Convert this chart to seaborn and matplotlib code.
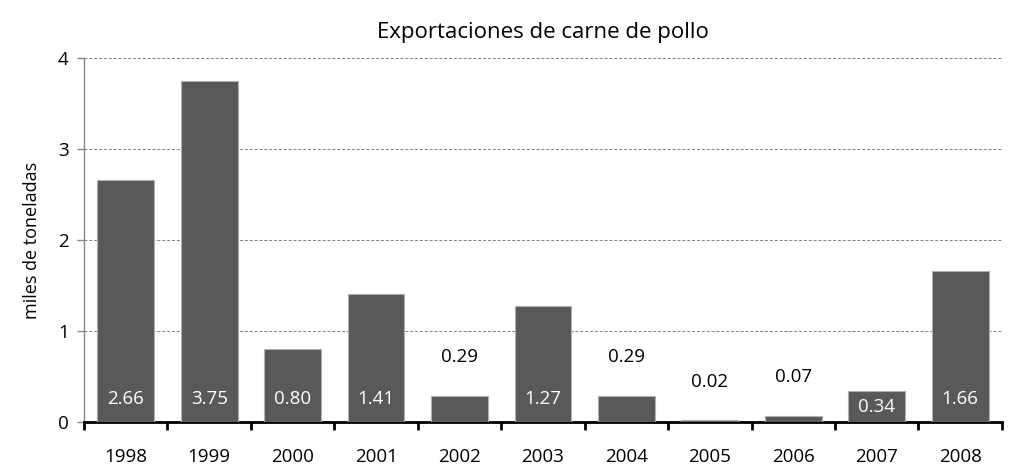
import pandas as pd
import seaborn as sns
import matplotlib.pyplot as plt
from matplotlib.ticker import FixedLocator

# Data
years = ["1998", "1999", "2000", "2001", "2002", "2003",
         "2004", "2005", "2006", "2007", "2008"]
exports = [2.66, 3.75, 0.80, 1.41, 0.29, 1.27, 0.29, 0.02, 0.07, 0.34, 1.66]

df = pd.DataFrame({"year": years, "exports": exports})

sns.set_theme(style="white")
plt.rcParams["font.family"] = ["Open Sans", "DejaVu Sans"]
plt.rcParams["text.color"] = "black"
plt.rcParams["axes.labelcolor"] = "black"

BAR_COLOR = "#595959"

fig = plt.figure(figsize=(10.1, 4.67), dpi=100)
ax = fig.add_axes([0.0832, 0.0964, 0.9088, 0.7796])

sns.barplot(data=df, x="year", y="exports", color=BAR_COLOR,
            width=0.68, saturation=1, edgecolor="#b0b0b0", linewidth=0.8,
            ax=ax, zorder=3)

ax.set_ylim(0, 4)
ax.set_xlim(-0.5, len(years) - 0.5)
ax.set_yticks([0, 1, 2, 3, 4])
ax.yaxis.grid(True, linestyle=(0, (3, 2)), color="#7f7f7f", linewidth=0.7)
ax.set_axisbelow(True)

# value labels: inside at the base for tall bars, above for short ones
for i, v in enumerate(exports):
    label = f"{v:.2f}"
    if v >= 0.3:
        ax.text(i, min(0.25, v / 2), label, ha="center", va="center",
                color="white", fontsize=13.5, zorder=4)
    else:
        ax.text(i, v + 0.42, label, ha="center", va="center",
                color="black", fontsize=13.5, zorder=4)

# spines and ticks
for side in ["top", "right"]:
    ax.spines[side].set_visible(False)
ax.spines["left"].set_color("#868686")
ax.spines["left"].set_linewidth(1)
ax.spines["bottom"].set_color("black")
ax.spines["bottom"].set_linewidth(2)

ax.tick_params(axis="y", which="major", left=True, length=5, width=1,
               color="#868686", labelcolor="black", labelsize=13.5, pad=6)
ax.tick_params(axis="x", which="major", bottom=False, labelcolor="black",
               labelsize=13.5, pad=13)
ax.xaxis.set_minor_locator(FixedLocator([i - 0.5 for i in range(len(years) + 1)]))
ax.tick_params(axis="x", which="minor", bottom=True, length=6, width=2,
               color="black", direction="out")

ax.set_xlabel("")
ax.set_ylabel("miles de toneladas", fontsize=13, labelpad=12)
ax.set_title("Exportaciones de carne de pollo", fontsize=16, pad=14)

fig.savefig("out.png", dpi=100)
